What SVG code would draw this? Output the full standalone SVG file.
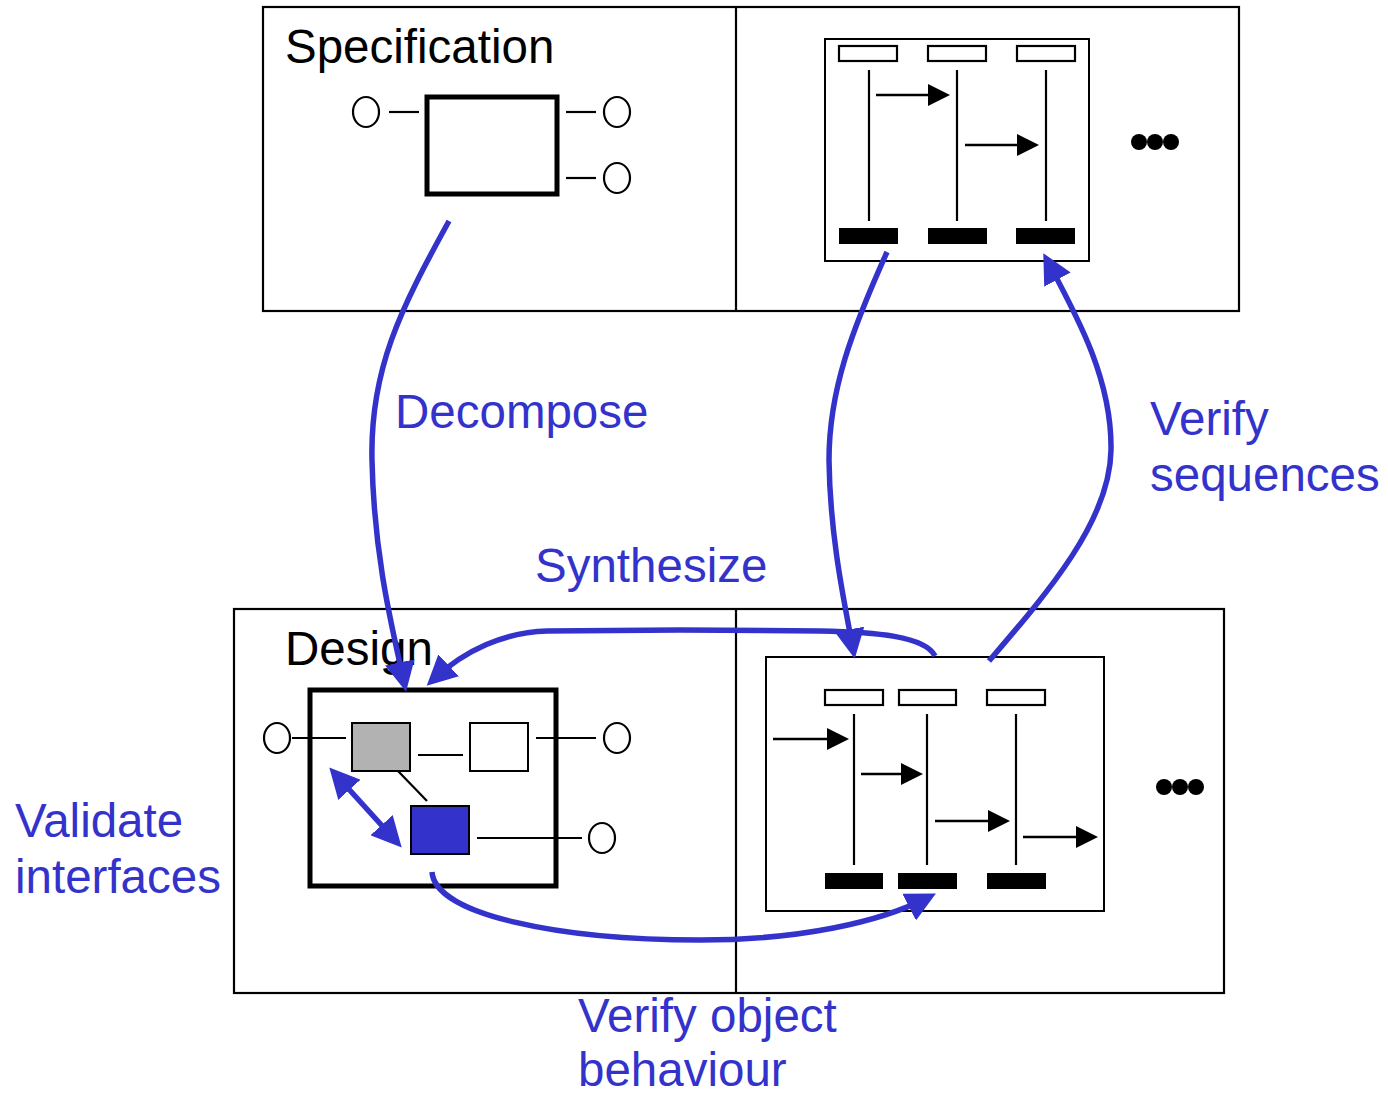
<svg xmlns="http://www.w3.org/2000/svg" width="1388" height="1095" viewBox="0 0 1388 1095">
  <style>
    .frame { fill: #ffffff; stroke: #000000; stroke-width: 2.2; }
    .comp { fill: #ffffff; stroke: #000000; stroke-width: 5; }
    .part { stroke: #000000; stroke-width: 2; }
    .port { fill: #ffffff; stroke: #000000; stroke-width: 2.2; }
    .wire { stroke: #000000; stroke-width: 2.2; fill: none; }
    .seqbox { fill: #ffffff; stroke: #000000; stroke-width: 2; }
    .head { fill: #ffffff; stroke: #000000; stroke-width: 2.2; }
    .end { fill: #000000; }
    .life { stroke: #000000; stroke-width: 2.2; }
    .msg { stroke: #000000; stroke-width: 2.5; fill: none; marker-end: url(#msgHead); }
    .flow { stroke: #3333cc; stroke-width: 5.5; fill: none; }
    .title { font-family: "Liberation Sans", Arial, sans-serif; font-size: 47.5px; fill: #000000; }
    .label { font-family: "Liberation Sans", Arial, sans-serif; font-size: 47.5px; fill: #3333cc; }
  </style>
  <defs>
    <marker id="msgHead" markerUnits="userSpaceOnUse" markerWidth="22" markerHeight="22" viewBox="0 0 22 22" refX="18" refY="11" orient="auto">
      <path d="M0 0 L22 11 L0 22 z" fill="#000000"/>
    </marker>
    <marker id="flowHead" markerUnits="userSpaceOnUse" markerWidth="30" markerHeight="30" viewBox="0 0 30 30" refX="20" refY="15" orient="auto-start-reverse">
      <path d="M0 0 L30 15 L0 30 z" fill="#3333cc"/>
    </marker>
  </defs>

  <!-- Specification panel -->
  <g id="spec-panel">
    <rect class="frame" x="263" y="7" width="976" height="304"/>
    <line class="frame" x1="736" y1="7" x2="736" y2="311"/>
  </g>

  <g id="spec-component">
    <text class="title" x="285" y="63">Specification</text>
    <rect class="comp" x="427" y="97" width="130" height="97"/>
    <ellipse class="port" cx="366" cy="112" rx="13" ry="15"/>
    <line class="wire" x1="389" y1="112" x2="419" y2="112"/>
    <ellipse class="port" cx="617" cy="112" rx="13" ry="15"/>
    <line class="wire" x1="566" y1="112" x2="596" y2="112"/>
    <ellipse class="port" cx="617" cy="178" rx="13" ry="15"/>
    <line class="wire" x1="566" y1="178" x2="596" y2="178"/>
  </g>

  <g id="spec-sequence">
    <rect class="seqbox" x="825" y="39" width="264" height="222"/>
    <rect class="head" x="839" y="46" width="58" height="15"/>
    <rect class="head" x="928" y="46" width="58" height="15"/>
    <rect class="head" x="1017" y="46" width="58" height="15"/>
    <line class="life" x1="869" y1="70" x2="869" y2="221"/>
    <line class="life" x1="957" y1="70" x2="957" y2="221"/>
    <line class="life" x1="1046" y1="70" x2="1046" y2="221"/>
    <rect class="end" x="839" y="228" width="59" height="16"/>
    <rect class="end" x="928" y="228" width="59" height="16"/>
    <rect class="end" x="1016" y="228" width="59" height="16"/>
    <path class="msg" d="M876 95 L946 95"/>
    <path class="msg" d="M965 145 L1035 145"/>
    <circle class="end" cx="1139" cy="142" r="8"/>
    <circle class="end" cx="1155" cy="142" r="8"/>
    <circle class="end" cx="1171" cy="142" r="8"/>
  </g>

  <!-- Design panel -->
  <g id="design-panel">
    <rect class="frame" x="234" y="609" width="990" height="384"/>
    <line class="frame" x1="736" y1="609" x2="736" y2="993"/>
  </g>

  <g id="design-component">
    <text class="title" x="285" y="665">Design</text>
    <rect class="comp" x="310" y="690" width="246" height="196"/>
    <ellipse class="port" cx="277" cy="738" rx="13" ry="15"/>
    <line class="wire" x1="292" y1="738" x2="346" y2="738"/>
    <rect class="part" fill="#b2b2b2" x="352" y="723" width="58" height="48"/>
    <rect class="part" fill="#ffffff" x="470" y="723" width="58" height="48"/>
    <line class="wire" x1="418" y1="755" x2="463" y2="755"/>
    <line class="wire" x1="536" y1="738" x2="596" y2="738"/>
    <ellipse class="port" cx="617" cy="738" rx="13" ry="15"/>
    <line class="wire" x1="398" y1="771" x2="427" y2="801"/>
    <rect class="part" fill="#3333cc" x="411" y="806" width="58" height="48"/>
    <line class="wire" x1="477" y1="838" x2="582" y2="838"/>
    <ellipse class="port" cx="602" cy="838" rx="13" ry="15"/>
  </g>

  <g id="design-sequence">
    <rect class="seqbox" x="766" y="657" width="338" height="254"/>
    <rect class="head" x="825" y="690" width="58" height="15"/>
    <rect class="head" x="899" y="690" width="57" height="15"/>
    <rect class="head" x="987" y="690" width="58" height="15"/>
    <line class="life" x1="854" y1="714" x2="854" y2="865"/>
    <line class="life" x1="927" y1="714" x2="927" y2="865"/>
    <line class="life" x1="1016" y1="714" x2="1016" y2="865"/>
    <rect class="end" x="825" y="873" width="58" height="16"/>
    <rect class="end" x="898" y="873" width="59" height="16"/>
    <rect class="end" x="987" y="873" width="59" height="16"/>
    <path class="msg" d="M773 739 L845 739"/>
    <path class="msg" d="M861 774 L919 774"/>
    <path class="msg" d="M935 821 L1006 821"/>
    <path class="msg" d="M1023 837 L1094 837"/>
    <circle class="end" cx="1164" cy="787" r="8"/>
    <circle class="end" cx="1180" cy="787" r="8"/>
    <circle class="end" cx="1196" cy="787" r="8"/>
  </g>

  <!-- Process connectors -->
  <g id="connectors">
    <path id="decompose" class="flow" marker-end="url(#flowHead)" d="M449 221 C 400 310, 370 370, 372 460 C 374 560, 394 635, 404 682"/>
    <path id="refine-sequence" class="flow" marker-end="url(#flowHead)" d="M887 252 C 852 330, 829 390, 829 460 C 830 540, 846 610, 853 649"/>
    <path id="verify-sequences" class="flow" marker-end="url(#flowHead)" d="M989 661 C 1050 590, 1110 520, 1111 450 C 1112 380, 1078 318, 1048 262"/>
    <path id="synthesize" class="flow" marker-end="url(#flowHead)" d="M935 656 C 925 636, 875 632, 820 631 L 680 630 L 547 631 C 505 632, 465 650, 434 679"/>
    <path id="verify-behaviour" class="flow" marker-end="url(#flowHead)" d="M432 872 C 435 915, 560 940, 700 940 C 800 940, 880 922, 927 898"/>
    <path id="validate-interfaces" class="flow" marker-start="url(#flowHead)" marker-end="url(#flowHead)" d="M336 775 L395 840"/>
  </g>

  <!-- Connector labels -->
  <g id="labels">
    <text class="label" x="395" y="428">Decompose</text>
    <text class="label" x="535" y="582">Synthesize</text>
    <text class="label" x="1150" y="435">Verify</text>
    <text class="label" x="1150" y="491">sequences</text>
    <text class="label" x="15" y="837">Validate</text>
    <text class="label" x="15" y="893">interfaces</text>
    <text class="label" x="578" y="1032">Verify object</text>
    <text class="label" x="578" y="1086">behaviour</text>
  </g>
</svg>
